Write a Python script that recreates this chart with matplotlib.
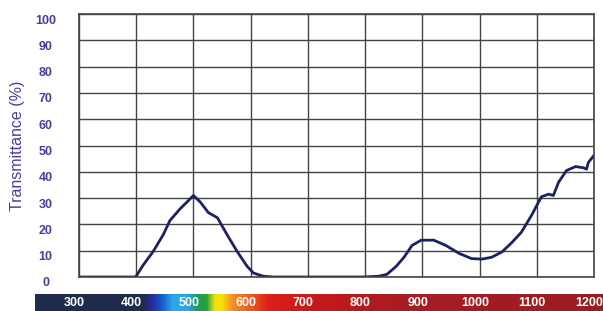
import matplotlib
matplotlib.use("Agg")
import matplotlib.pyplot as plt
import matplotlib.transforms as mtransforms
from matplotlib.colors import LinearSegmentedColormap
import numpy as np

plt.rcParams['font.family'] = ['Liberation Sans', 'DejaVu Sans']

# transmittance curve (wavelength nm, %)
wavelength = [300, 350, 399, 412, 429, 447, 459, 477, 491, 500, 512, 526, 542,
              559, 577, 594, 605, 622, 640, 700, 798, 824, 838, 854, 868, 882,
              898, 920, 941, 964, 986, 1004, 1021, 1039, 1056, 1073, 1091,
              1108, 1121, 1129, 1138, 1152, 1168, 1182, 1187, 1190, 1199]
transmittance = [0, 0, 0, 4.5, 9.5, 16, 21.5, 26, 29, 31, 28.5, 24.5, 22.5,
                 16, 9.5, 4, 1.5, 0.3, 0, 0, 0, 0.3, 1, 4, 7.5, 12,
                 14, 14, 12, 9, 7, 6.8, 7.5, 9.5, 13, 17, 23.5,
                 30.5, 31.5, 31, 36, 40.5, 42, 41.5, 41, 43.5, 46]

y_ticks = [0, 10, 20, 30, 40, 50, 60, 70, 80, 90, 100]
x_labels = [300, 400, 500, 600, 700, 800, 900, 1000, 1100, 1200]

# spectrum strip colours (nm, colour)
spectrum_nm = [223, 410, 425, 442, 462, 488, 505, 522, 537, 548, 570, 605, 630,
               720, 860, 1216]
spectrum_col = ['#1f2c4c', '#1f2c4c', '#2a2a9e', '#1555cc', '#2aa6e8', '#2aa6e8',
                '#1f9c5a', '#22a040', '#f4e40a', '#f6e20a', '#f08a2a', '#e8521e',
                '#dc2018', '#c41a1c', '#a81c22', '#9a1d22']

label_col = '#4a3c9c'

fig = plt.figure(figsize=(6.03, 3.11), dpi=100)
ax = fig.add_axes([79 / 603, 1 - 277 / 311, (594 - 79) / 603, (277 - 14) / 311])

ax.plot(wavelength, transmittance, color='#1b2162', lw=2.0, solid_joinstyle='round')
ax.set_xlim(300, 1200)
ax.set_ylim(0, 100)
ax.set_xticks(x_labels)
ax.set_xticklabels([])
ax.set_yticks(y_ticks)
ax.grid(True, color='#444444', lw=1.0)
ax.tick_params(length=0, axis='y', pad=24, labelsize=9, labelcolor=label_col)
ax.tick_params(length=0, axis='x')
for lab in ax.get_yticklabels():
    lab.set_horizontalalignment('center')
    lab.set_fontweight('bold')
    lab.set_transform(lab.get_transform() +
                      mtransforms.ScaledTranslation(0, -5 / 100, fig.dpi_scale_trans))
for s in ax.spines.values():
    s.set_color('#444444')
    s.set_linewidth(1.2)
ax.set_ylabel('Transmittance (%)', color=label_col, fontsize=11.5, labelpad=7)

# spectrum strip below the plot
cax = fig.add_axes([35 / 603, 0, 568 / 603, 17 / 311])
lo, hi = spectrum_nm[0], spectrum_nm[-1]
stops = [(v - lo) / (hi - lo) for v in spectrum_nm]
cmap = LinearSegmentedColormap.from_list('spec', list(zip(stops, spectrum_col)))
grad = np.linspace(0, 1, 800).reshape(1, -1)
cax.imshow(grad, aspect='auto', cmap=cmap, extent=[lo, hi, 0, 1])
cax.set_xlim(lo, hi)
cax.set_ylim(0, 1)
cax.axis('off')
for v in x_labels:
    cax.text(v - 8, 0.45, str(v), color='white', ha='center', va='center',
             fontsize=9, fontweight='bold')

fig.savefig('out.png', dpi=100)
